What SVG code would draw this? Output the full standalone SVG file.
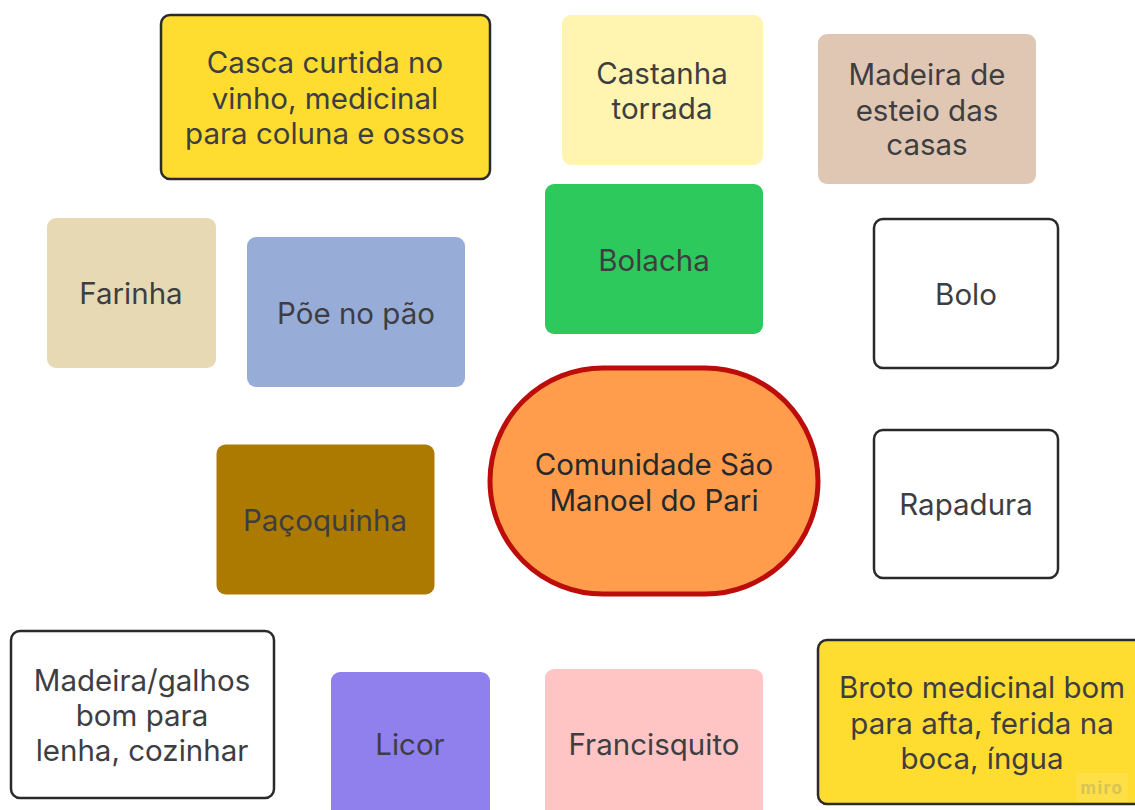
<svg xmlns="http://www.w3.org/2000/svg" width="1135" height="810" viewBox="0 0 1135 810">
<style>
text{font-family:"Inter","Noto Sans","Liberation Sans",sans-serif;font-size:29.5px;fill:#3e3e42;text-anchor:middle}
.o{stroke:#2a2a2a;stroke-width:2.5}
.dark{fill:#26282c}
.wm{font-size:17px;font-weight:700;fill:#d6c456;letter-spacing:1.5px}
</style>
<rect width="1135" height="810" fill="#fff"/>
<g id="connectors"/>
<g id="n1"><rect class="o" x="161" y="15" width="329" height="164" rx="9" fill="#fedc30"/><text x="325" y="73">Casca curtida no</text><text x="325" y="108.500">vinho, medicinal</text><text x="325" y="143.500">para coluna e ossos</text></g>
<g id="n2"><rect x="562" y="15" width="201" height="150" rx="9" fill="#fff4b0"/><text x="662" y="83.500">Castanha</text><text x="662" y="119">torrada</text></g>
<g id="n3"><rect x="818" y="34" width="218" height="150" rx="9" fill="#e0c7b4"/><text x="927" y="85">Madeira de</text><text x="927" y="120.500">esteio das</text><text x="927" y="155">casas</text></g>
<g id="n4"><rect x="47" y="218" width="169" height="150" rx="9" fill="#e7d9b3"/><text x="131" y="303.500">Farinha</text></g>
<g id="n5"><rect x="247" y="237" width="218" height="150" rx="9" fill="#98acd8"/><text x="356" y="324">Põe no pão</text></g>
<g id="n6"><rect x="545" y="184" width="218" height="150" rx="9" fill="#2ec95c"/><text x="654" y="270.500">Bolacha</text></g>
<g id="n7"><rect class="o" x="874" y="219" width="184" height="149" rx="9" fill="#fff"/><text x="966" y="304.500">Bolo</text></g>
<g id="n8"><rect x="490" y="368" width="328" height="226" rx="113" fill="#ff9d4d" stroke="#bd0d0b" stroke-width="5"/><text class="dark" x="654" y="475">Comunidade São</text><text class="dark" x="654" y="510.500">Manoel do Pari</text></g>
<g id="n9"><rect class="o" x="874" y="430" width="184" height="148" rx="9" fill="#fff"/><text x="966" y="515">Rapadura</text></g>
<g id="n10"><rect x="216.500" y="444.500" width="218" height="150" rx="9" fill="#ad7a00"/><text x="325" y="530.500">Paçoquinha</text></g>
<g id="n11"><rect class="o" x="11" y="631" width="263" height="167" rx="9" fill="#fff"/><text x="142" y="690.500">Madeira/galhos</text><text x="142" y="725.500">bom para</text><text x="142" y="760.500">lenha, cozinhar</text></g>
<g id="n12"><rect x="331" y="672" width="159" height="150" rx="9" fill="#9080ee"/><text x="410" y="755">Licor</text></g>
<g id="n13"><rect x="545" y="669" width="218" height="150" rx="9" fill="#ffc5c5"/><text x="654" y="755">Francisquito</text></g>
<g id="n14"><rect class="o" x="818" y="640" width="329" height="164" rx="9" fill="#fedc30"/><text x="982" y="698">Broto medicinal bom</text><text x="982" y="733.500">para afta, ferida na</text><text x="982" y="768.500">boca, íngua</text></g>
<rect x="1076" y="773" width="52" height="29" fill="#fff" opacity=".1"/>
<text class="wm" x="1102" y="794">miro</text>
</svg>
